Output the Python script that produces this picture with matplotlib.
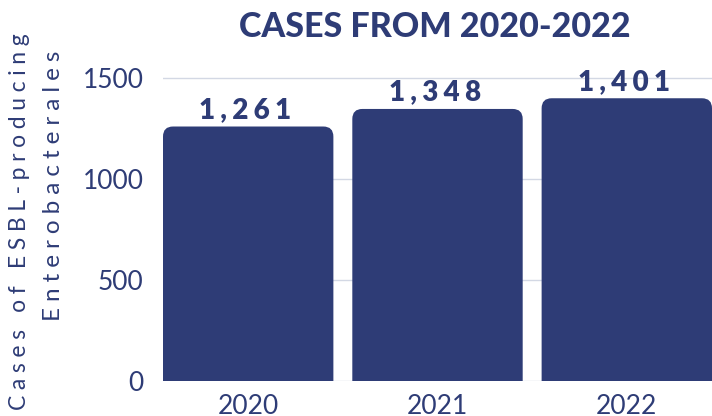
import matplotlib.pyplot as plt
from matplotlib.patches import FancyBboxPatch

plt.rcParams['font.family'] = ['Lato', 'DejaVu Sans']

years = ["2020", "2021", "2022"]
cases = [1261, 1348, 1401]
yticks = [0, 500, 1000, 1500]

navy = "#2E3C76"
grid_col = "#D3D8E4"


def spaced(s, gap="\u2009"):
    # fake letter-spacing by putting thin spaces between glyphs
    return gap.join(s)


W, H = 712, 416
fig = plt.figure(figsize=(W / 100, H / 100), dpi=100)
ax_l, ax_b, ax_w, ax_h = 163, 35, 549, 333
ax = fig.add_axes([ax_l / W, ax_b / H, ax_w / W, ax_h / H])

ymax = 1650
xlo, xhi = -0.45, 2.45
ax.set_xlim(xlo, xhi)
ax.set_ylim(0, ymax)

# rounded top corners: radius in pixels converted to data units
x_ppu = ax_w / (xhi - xlo)
y_ppu = ax_h / ymax
rad = 10 / x_ppu
aspect = x_ppu / y_ppu
ry = rad * aspect

bars = ax.bar(range(len(years)), cases, width=0.9, color="none")
for b, v in zip(bars, cases):
    p = FancyBboxPatch((b.get_x(), -ry), b.get_width(), b.get_height() + ry,
                       boxstyle=f"round,pad=0,rounding_size={rad}",
                       mutation_aspect=aspect, fc=navy, ec="none", zorder=2)
    ax.add_patch(p)
    ax.annotate(spaced(f"{v:,}", "\u2009\u200a"),
                (b.get_x() + b.get_width() / 2, v),
                xytext=(-2, 6), textcoords="offset points", ha="center",
                va="baseline", fontsize=20, fontweight="heavy", color=navy,
                zorder=3)

ax.set_xticks(range(len(years)))
ax.set_xticklabels(years)
ax.set_yticks(yticks)
ax.yaxis.grid(True, color=grid_col, lw=1)
ax.set_axisbelow(True)
ax.tick_params(length=0, labelsize=19, colors=navy)
ax.tick_params(axis="y", pad=14)
ax.tick_params(axis="x", pad=9)
for s in ax.spines.values():
    s.set_visible(False)

fig.text(435 / W, 1 - 27 / H, "CASES FROM 2020-2022", ha="center",
         va="center", fontsize=24.5, fontweight="black", color=navy)

lab_gap = "\u2009\u200a\u200a"
fig.text(20 / W, 1 - 222 / H, spaced("Cases of ESBL-producing", lab_gap),
         rotation=90, ha="center", va="center", fontsize=16.5, color=navy)
fig.text(54 / W, 1 - 186 / H, spaced("Enterobacterales", lab_gap),
         rotation=90, ha="center", va="center", fontsize=17.5, color=navy)

fig.savefig("out.png", dpi=100)
